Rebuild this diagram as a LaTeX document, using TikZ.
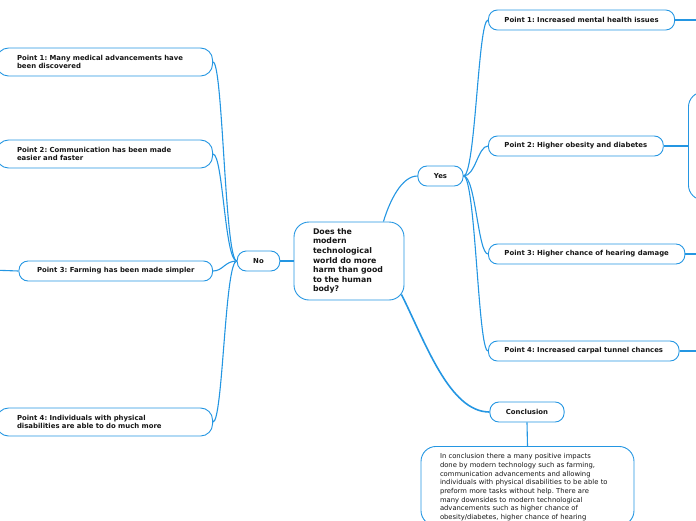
\documentclass[tikz,border=0pt]{standalone}
\usepackage{fontspec}
\setmainfont{DejaVu Sans}
\usetikzlibrary{calc}
\frenchspacing
\begin{document}
\begin{tikzpicture}[x=1pt,y=-1pt]
\definecolor{linkcolor}{RGB}{36,150,226}
\definecolor{textcolor}{RGB}{22,22,22}
\tikzstyle{topic}=[draw=linkcolor,line width=0.9pt,fill=white,rounded corners=9pt,inner xsep=16pt,inner ysep=0pt,minimum height=20pt,text=textcolor,font=\fontsize{6.9}{8.8}\selectfont\bfseries]
\tikzstyle{wide}=[topic,minimum height=28pt,text width=175pt,align=left,inner xsep=20.5pt,rounded corners=12pt,anchor=east]
\tikzstyle{root}=[topic,minimum height=78pt,text width=72pt,align=left,inner xsep=19pt,rounded corners=15pt,font=\fontsize{7.8}{9.6}\selectfont\bfseries]
\tikzstyle{note}=[topic,text width=175pt,align=left,inner xsep=19pt,inner ysep=7pt,rounded corners=15pt,text depth=60pt,font=\fontsize{6.8}{8.7}\selectfont]
\tikzstyle{link}=[draw=linkcolor,line width=1.1pt]
\tikzstyle{mainlink}=[link,line width=1.6pt]
\useasboundingbox (0,0) rectangle (696,520);
\clip (0,0) rectangle (696,520);
% centre and branches
\node[root] (question) at (349,261) {Does the\\modern\\technological\\world do more\\harm than good\\to the human\\body?};
\node[topic] (no) at (258.5,261) {No};
\node[topic] (yes) at (440.5,176) {Yes};
\node[topic] (conclusion) at (527,412) {Conclusion};
% no side
\node[wide] (medical) at (213,62) {Point 1: Many medical advancements have\\been discovered};
\node[wide] (communication) at (213,154) {Point 2: Communication has been made\\easier and faster};
\node[topic,anchor=east,inner xsep=18pt] (farming) at (213,271) {Point 3: Farming has been made simpler};
\node[wide] (disabilities) at (213,422) {Point 4: Individuals with physical\\disabilities are able to do much more};
\coordinate (farmingend) at (-10,270);
% yes side
\node[topic,anchor=west] (mental) at (488,20) {Point 1: Increased mental health issues};
\node[topic,anchor=west] (obesity) at (488,146) {Point 2: Higher obesity and diabetes};
\node[topic,anchor=west] (hearing) at (488,254) {Point 3: Higher chance of hearing damage};
\node[topic,anchor=west] (carpal) at (488,351) {Point 4: Increased carpal tunnel chances};
\node[topic,anchor=west,minimum width=60pt,minimum height=108pt,rounded corners=15pt] (obesitynote) at (688,146) {};
\coordinate (mentalend) at (706,20);
\coordinate (hearingend) at (706,254);
\coordinate (carpalend) at (706,351);
% conclusion text
\node[note,anchor=north] (summary) at (527.5,446) {In conclusion there a many positive impacts\\done by modern technology such as farming,\\communication advancements and allowing\\individuals with physical disabilities to be able to\\preform more tasks without help. There are\\many downsides to modern technological\\advancements such as higher chance of\\obesity/diabetes, higher chance of hearing};
% links
\draw[link] (question.west) -- (no.east);
\draw[link] ($(question.north east)+(-21,0)$) .. controls +(6,-20) and +(-16,0) .. (yes.west);
\draw[mainlink] ($(question.south east)+(-3,-6)$) .. controls +(24,48) and +(-40,0) .. (conclusion.west);
\draw[link] (conclusion.south) -- (summary.north);
\draw[link] (no.west) .. controls +(-12,0) and +(10,0) .. (medical.east);
\draw[link] (no.west) .. controls +(-12,0) and +(10,0) .. (communication.east);
\draw[link] (no.west) .. controls +(-12,0) and +(10,0) .. (farming.east);
\draw[link] (no.west) .. controls +(-12,0) and +(10,0) .. (disabilities.east);
\draw[link] (farming.west) -- (farmingend);
\draw[link] (yes.east) .. controls +(12,0) and +(-10,0) .. (mental.west);
\draw[link] (yes.east) .. controls +(12,0) and +(-10,0) .. (obesity.west);
\draw[link] (yes.east) .. controls +(12,0) and +(-10,0) .. (hearing.west);
\draw[link] (yes.east) .. controls +(12,0) and +(-10,0) .. (carpal.west);
\draw[link] (mental.east) -- (mentalend);
\draw[link] (obesity.east) -- (obesitynote.west);
\draw[link] (hearing.east) -- (hearingend);
\draw[link] (carpal.east) -- (carpalend);
\end{tikzpicture}
\end{document}
